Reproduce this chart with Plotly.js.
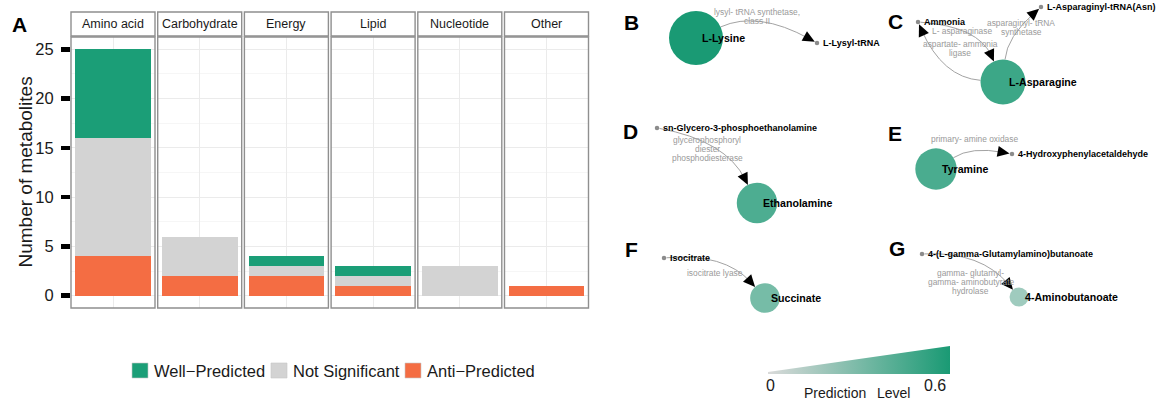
<!DOCTYPE html>
<html><head><meta charset="utf-8">
<script src="https://cdn.plot.ly/plotly-3.0.1.min.js"></script>
<style>html,body{margin:0;padding:0;background:#fff}</style>
</head><body><div id="chart" style="width:1156px;height:400px"></div>
<script>
// ---------------- DATA ----------------
const categories = ['Amino acid','Carbohydrate','Energy','Lipid','Nucleotide','Other'];
const antiPredicted  = [4, 2, 2, 1, 0, 1];
const notSignificant = [12, 4, 1, 1, 3, 0];
const wellPredicted  = [9, 0, 1, 1, 0, 0];
const seriesNames = ['Anti\u2212Predicted', 'Not Significant', 'Well\u2212Predicted'];
const yTicks = [0, 5, 10, 15, 20, 25];

const nodeNames = ['L-Lysine','L-Lysyl-tRNA','Ammonia','L-Asparagine','L-Asparaginyl-tRNA(Asn)',
  'sn-Glycero-3-phosphoethanolamine','Ethanolamine','Tyramine','4-Hydroxyphenylacetaldehyde',
  'Isocitrate','Succinate','4-(L-gamma-Glutamylamino)butanoate','4-Aminobutanoate'];
const nodeLevel = [0.6, null, null, 0.5, null, null, 0.45, 0.46, null, null, 0.33, null, 0.21];
const edgeFrom = ['L-Lysine','Ammonia','L-Asparagine','L-Asparagine','sn-Glycero-3-phosphoethanolamine',
  'Tyramine','Isocitrate','4-(L-gamma-Glutamylamino)butanoate'];
const edgeTo = ['L-Lysyl-tRNA','L-Asparagine','Ammonia','L-Asparaginyl-tRNA(Asn)','Ethanolamine',
  '4-Hydroxyphenylacetaldehyde','Succinate','4-Aminobutanoate'];
const edgeEnzyme = ['lysyl- tRNA synthetase,\nclass II','aspartate- ammonia\nligase','L- asparaginase',
  'asparaginyl- tRNA\nsynthetase','glycerophosphoryl\ndiester\nphosphodiesterase','primary- amine oxidase',
  'isocitrate lyase','gamma- glutamyl-\ngamma- aminobutyrate\nhydrolase'];
const panelLetters = ['B','C','D','E','F','G'];
const levelRange = [0, 0.6];
const levelTickText = ['0', '0.6'];

// ---------------- LAYOUT / STYLE ----------------
const W = 1156, H = 400;
const px = x => x / W, py = y => 1 - y / H;
const FONT = 'Liberation Sans, Arial, Helvetica, sans-serif';
const seriesColors = ['#f46d43', '#d3d3d3', '#1b9e77'];
const seriesVals = [antiPredicted, notSignificant, wellPredicted];
const facetLeft = 71, facetW = 84, facetPitch = 86.7;
const panelTop = 37, panelBot = 308, stripTop = 12, stripBot = 36;

// network layout (pixel positions in the right-hand area)
const netPos = {
  'L-Lysine':[696,38], 'L-Lysyl-tRNA':[817,43], 'Ammonia':[918,22], 'L-Asparagine':[1003,82],
  'L-Asparaginyl-tRNA(Asn)':[1041,7], 'sn-Glycero-3-phosphoethanolamine':[657,128],
  'Ethanolamine':[757,203], 'Tyramine':[936,169], '4-Hydroxyphenylacetaldehyde':[1012,154],
  'Isocitrate':[664,258], 'Succinate':[765,298], '4-(L-gamma-Glutamylamino)butanoate':[922,254],
  '4-Aminobutanoate':[1019,297]
};
const edgeCurve = [0.25, 0.3, 0.3, 0.2, 0.25, 0.2, 0.25, 0.25];
const edgeLabelPos = [[756.5,16.7],[960,48],[962,30.5],[1021,27.2],[707,149.4],[974,139.3],[715,273.3],[970.7,282.2]];
const letterPos = [[631,22],[895,21],[630,131],[895,133],[631,249],[897,248]];
const sizeScale = 90;
const levelColorscale = [[0,'#e6e6e6'],[1,'#1a9a74']];

const traces = [];
const shapes = [];
const annotations = [];
const layout = {
  width: W, height: H, autosize: false,
  margin: {l:0, r:0, t:0, b:0, pad:0},
  paper_bgcolor: '#fff', plot_bgcolor: '#fff',
  barmode: 'stack', showlegend: false,
  font: {family: FONT, color: '#1a1a1a'},
  hovermode: false
};

// ---- Panel A: faceted stacked bars ----
categories.forEach((cat, i) => {
  const xa = i === 0 ? 'x' : 'x' + (i + 1);
  const x0 = facetLeft + i * facetPitch, x1 = x0 + facetW;
  layout[i === 0 ? 'xaxis' : 'xaxis' + (i + 1)] = {
    domain: [px(x0), px(x1)], anchor: 'y', type: 'category', range: [-0.5, 0.5],
    showgrid: true, gridcolor: '#ebebeb', gridwidth: 1, showticklabels: false,
    ticks: '', zeroline: false, showline: false, fixedrange: true
  };
  seriesVals.forEach((vals, s) => {
    traces.push({type:'bar', x:[cat], y:[vals[i]], xaxis: xa, yaxis: 'y', width: 0.9,
      name: seriesNames[s], marker:{color: seriesColors[s], line:{width:0}}, hoverinfo:'skip'});
  });
  shapes.push({type:'rect', xref:'paper', yref:'paper', x0:px(x0), x1:px(x1), y0:py(panelBot), y1:py(panelTop),
    line:{color:'#8f8f8f', width:1.4}, fillcolor:'rgba(0,0,0,0)', layer:'above'});
  shapes.push({type:'rect', xref:'paper', yref:'paper', x0:px(x0), x1:px(x1), y0:py(stripBot), y1:py(stripTop),
    line:{color:'#8f8f8f', width:1.4}, fillcolor:'#ffffff', layer:'above'});
  annotations.push({xref:'paper', yref:'paper', x:px((x0+x1)/2), y:py((stripTop+stripBot)/2), text:cat,
    showarrow:false, xanchor:'center', yanchor:'middle', font:{size:12.5, color:'#1a1a1a'}});
});
layout.yaxis = {
  domain: [py(panelBot), py(panelTop)], anchor: 'x', range: [-1.25, 26.25],
  tickvals: yTicks, ticktext: yTicks.map(String), ticks: 'outside', ticklen: 9, tickwidth: 4.5,
  tickcolor: '#000', tickfont: {size: 16.5, color: '#1a1a1a'}, ticklabelstandoff: 4,
  showgrid: true, gridcolor: '#ebebeb', gridwidth: 1,
  minor: {dtick: 2.5, tick0: 0, showgrid: true, gridcolor: '#f4f4f4', gridwidth: 0.8, ticks: ''},
  zeroline: false, showline: false, fixedrange: true
};
annotations.push({xref:'paper', yref:'paper', x:px(25), y:py((panelTop+panelBot)/2), text:'Number of metabolites',
  textangle:-90, showarrow:false, xanchor:'center', yanchor:'middle', font:{size:19, color:'#1a1a1a'}});
annotations.push({xref:'paper', yref:'paper', x:px(19), y:py(24), text:'<b>A</b>', showarrow:false,
  xanchor:'center', yanchor:'middle', font:{size:21, color:'#000'}});

// custom legend
const legendItems = [
  {s:2, sw:132, tx:153}, {s:1, sw:271, tx:292}, {s:0, sw:405, tx:426}
];
legendItems.forEach(it => {
  shapes.push({type:'rect', xref:'paper', yref:'paper', x0:px(it.sw), x1:px(it.sw+16), y0:py(378), y1:py(363),
    fillcolor: seriesColors[it.s], line:{width:0.6, color:'#c8c8c8'}});
  annotations.push({xref:'paper', yref:'paper', x:px(it.tx-1), y:py(370.5), text: seriesNames[it.s],
    showarrow:false, xanchor:'left', yanchor:'middle', font:{size:16.5, color:'#1a1a1a'}});
});

// ---- Panels B-G: network ----
layout.xaxis7 = {domain:[px(613), 1], range:[613, 1156], visible:false, fixedrange:true, anchor:'y7'};
layout.yaxis7 = {domain:[0, 1], range:[400, 0], visible:false, fixedrange:true, anchor:'x7'};

const nodeRadius = name => {
  const lv = nodeLevel[nodeNames.indexOf(name)];
  return lv == null ? 2.5 : lv * sizeScale / 2;
};
edgeFrom.forEach((src, k) => {
  const S = netPos[src], T = netPos[edgeTo[k]];
  const dx = T[0]-S[0], dy = T[1]-S[1], L = Math.hypot(dx, dy);
  const c = edgeCurve[k];
  const C = [(S[0]+T[0])/2 + dy/L*c*L, (S[1]+T[1])/2 - dx/L*c*L];
  let u0 = [C[0]-S[0], C[1]-S[1]]; let l0 = Math.hypot(...u0); u0 = [u0[0]/l0, u0[1]/l0];
  let u1 = [T[0]-C[0], T[1]-C[1]]; let l1 = Math.hypot(...u1); u1 = [u1[0]/l1, u1[1]/l1];
  const rs = nodeRadius(src), rt = nodeRadius(edgeTo[k]);
  const start = [S[0]+u0[0]*rs, S[1]+u0[1]*rs];
  const tip = [T[0]-u1[0]*rt, T[1]-u1[1]*rt];
  const alen = 12, ahw = 5.5;
  const base = [tip[0]-u1[0]*alen, tip[1]-u1[1]*alen];
  const nrm = [-u1[1], u1[0]];
  const endLine = [tip[0]-u1[0]*6, tip[1]-u1[1]*6];
  shapes.push({type:'path', xref:'x7', yref:'y7', layer:'below',
    path:`M${start[0]},${start[1]} Q${C[0]},${C[1]} ${endLine[0]},${endLine[1]}`,
    line:{color:'#a3a3a3', width:1}});
  shapes.push({type:'path', xref:'x7', yref:'y7', layer:'above',
    path:`M${tip[0]},${tip[1]} L${base[0]+nrm[0]*ahw},${base[1]+nrm[1]*ahw} L${base[0]-nrm[0]*ahw},${base[1]-nrm[1]*ahw} Z`,
    fillcolor:'#000', line:{width:0}});
  const lines = edgeEnzyme[k].split('\n');
  const lp = edgeLabelPos[k];
  lines.forEach((t, j) => {
    annotations.push({xref:'x7', yref:'y7', x:lp[0], y:lp[1] + (j-(lines.length-1)/2)*9, text:t,
      showarrow:false, xanchor:'center', yanchor:'middle', font:{size:8.4, color:'#9a9a9a'}});
  });
});

// nodes
const bigIdx = nodeNames.map((n,i)=>i).filter(i => nodeLevel[i] != null);
const smallIdx = nodeNames.map((n,i)=>i).filter(i => nodeLevel[i] == null);
traces.push({type:'scatter', mode:'markers', xaxis:'x7', yaxis:'y7',
  x: bigIdx.map(i => netPos[nodeNames[i]][0]), y: bigIdx.map(i => netPos[nodeNames[i]][1]),
  marker:{size: bigIdx.map(i => nodeLevel[i]*sizeScale), color: bigIdx.map(i => nodeLevel[i]),
    cmin: levelRange[0], cmax: levelRange[1], colorscale: levelColorscale, line:{width:0}, opacity:1},
  hoverinfo:'skip', cliponaxis:false});
traces.push({type:'scatter', mode:'markers', xaxis:'x7', yaxis:'y7',
  x: smallIdx.map(i => netPos[nodeNames[i]][0]), y: smallIdx.map(i => netPos[nodeNames[i]][1]),
  marker:{size:4.5, color:'#8c8c8c', line:{width:0}}, hoverinfo:'skip', cliponaxis:false});
nodeNames.forEach((n, i) => {
  const big = nodeLevel[i] != null;
  annotations.push({xref:'x7', yref:'y7', x: netPos[n][0] + (big ? 3.5 : 4), y: netPos[n][1], text:'<b>'+n+'</b>',
    showarrow:false, xanchor:'left', yanchor:'middle', font:{size: big ? 10.6 : 9, color:'#000'}});
});
panelLetters.forEach((l, i) => {
  annotations.push({xref:'x7', yref:'y7', x:letterPos[i][0], y:letterPos[i][1], text:'<b>'+l+'</b>',
    showarrow:false, xanchor:'center', yanchor:'middle', font:{size:21, color:'#000'}});
});

// gradient legend wedge
traces.push({type:'scatter', mode:'lines', xaxis:'x7', yaxis:'y7', fill:'toself',
  x:[768, 950, 950, 768, 768], y:[372, 346, 374, 374, 372],
  line:{width:0, color:'rgba(0,0,0,0)'},
  fillgradient:{type:'horizontal', colorscale:[[0,'#dadada'],[1,'#1a9a74']]},
  hoverinfo:'skip'});
annotations.push({xref:'x7', yref:'y7', x:770, y:385, text:levelTickText[0], showarrow:false,
  xanchor:'center', yanchor:'middle', font:{size:16, color:'#1a1a1a'}});
annotations.push({xref:'x7', yref:'y7', x:935, y:385, text:levelTickText[1], showarrow:false,
  xanchor:'center', yanchor:'middle', font:{size:16, color:'#1a1a1a'}});
annotations.push({xref:'x7', yref:'y7', x:834.5, y:392.5, text:'Prediction', showarrow:false,
  xanchor:'center', yanchor:'middle', font:{size:14, color:'#1a1a1a'}});
annotations.push({xref:'x7', yref:'y7', x:893, y:392.5, text:'Level', showarrow:false,
  xanchor:'center', yanchor:'middle', font:{size:14, color:'#1a1a1a'}});

layout.shapes = shapes;
layout.annotations = annotations;
Plotly.newPlot('chart', traces, layout, {staticPlot:true, displayModeBar:false});
</script></body></html>
